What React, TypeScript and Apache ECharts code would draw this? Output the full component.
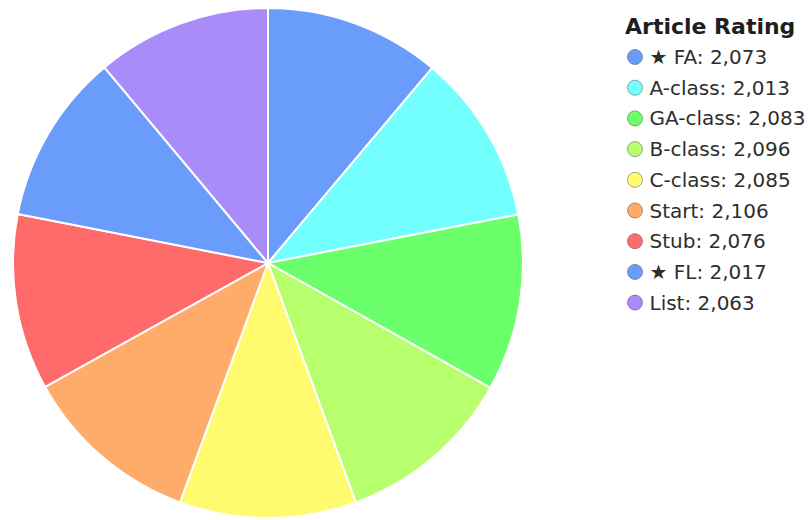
import React, { useEffect, useRef } from "react";
import * as echarts from "echarts";

const categories = ["★ FA", "A-class", "GA-class", "B-class", "C-class", "Start", "Stub", "★ FL", "List"];
const counts = [2073, 2013, 2083, 2096, 2085, 2106, 2076, 2017, 2063];
const colors = ["#6a9dfb", "#72fffe", "#6bff6b", "#b8ff6e", "#fffa6e", "#ffab6a", "#ff6a6a", "#6a9dfb", "#a98bfa"];
const legendTitle = "Article Rating";

export default function App() {
  const ref = useRef<HTMLDivElement>(null);
  useEffect(() => {
    if (!ref.current) return;
    const chart = echarts.init(ref.current, undefined, { renderer: "svg" });
    const valueByName: Record<string, number> = {};
    categories.forEach((c, i) => (valueByName[c] = counts[i]));
    chart.setOption({
      animation: false,
      backgroundColor: "#ffffff",
      title: {
        text: legendTitle,
        left: 625,
        top: 15,
        padding: 0,
        textStyle: {
          fontFamily: "DejaVu Sans",
          fontWeight: "bold",
          fontSize: 22,
          color: "#1e1e1e",
        },
      },
      legend: {
        orient: "vertical",
        left: 627,
        top: 47,
        padding: 0,
        icon: "circle",
        itemWidth: 15,
        itemHeight: 15,
        itemGap: 10.7,
        selectedMode: false,
        data: categories,
        itemStyle: { borderColor: "rgba(60,60,60,0.45)", borderWidth: 1 },
        textStyle: {
          fontFamily: "DejaVu Sans",
          fontSize: 20,
          lineHeight: 20,
          color: "#2e2e2e",
          padding: [0, 0, 0, 2],
        },
        formatter: (name: string) => `${name}: ${valueByName[name].toLocaleString("en-US")}`,
      },
      series: [
        {
          type: "pie",
          center: [268, 263],
          radius: 255,
          startAngle: 90,
          clockwise: true,
          label: { show: false },
          labelLine: { show: false },
          emphasis: { disabled: true },
          itemStyle: { borderColor: "#ffffff", borderWidth: 2 },
          data: categories.map((c, i) => ({
            name: c,
            value: counts[i],
            itemStyle: { color: colors[i] },
          })),
        },
      ],
    });
    return () => chart.dispose();
  }, []);
  return (
    <div
      ref={ref}
      style={{ position: "fixed", left: 0, top: 0, width: 808, height: 520 }}
    />
  );
}
